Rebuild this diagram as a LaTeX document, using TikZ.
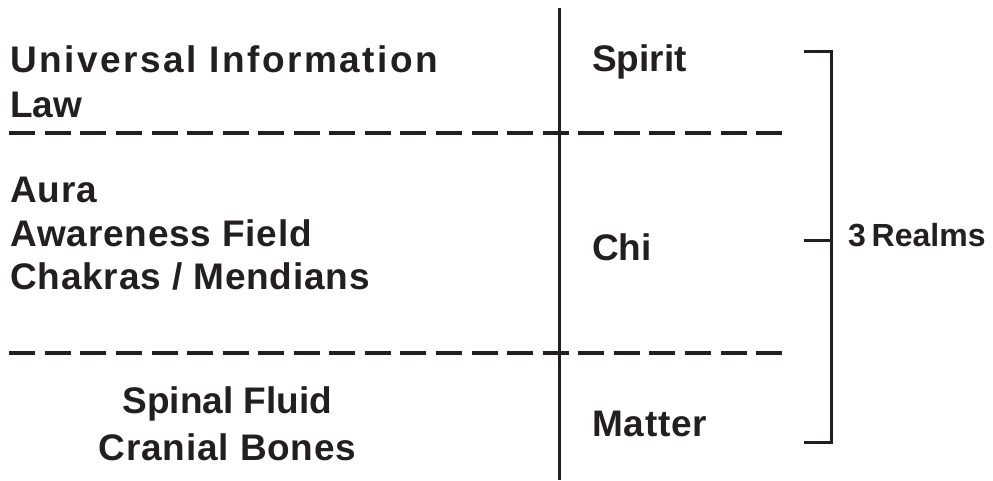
\documentclass[tikz,border=0pt]{standalone}
\usepackage{fontspec}
\setmainfont{Liberation Sans}
\newfontfamily\spacedfont{Liberation Sans}[LetterSpace=6.8]
\newfontfamily\trackfont{Liberation Sans}[LetterSpace=2.2]
\definecolor{ink}{HTML}{231F20}
\tikzset{
  lab/.style={inner sep=0pt, anchor=base west, text=ink, font=\fontsize{37}{44}\selectfont\bfseries},
  tlab/.style={lab, font=\fontsize{37}{44}\trackfont\bfseries},
  clab/.style={lab, anchor=base},
  rule/.style={draw=ink, line width=3pt},
  sep/.style={draw=ink, line width=3.6pt, dash pattern=on 26pt off 9.56pt}
}
\begin{document}
\begin{tikzpicture}[x=1pt,y=-1pt]
\useasboundingbox (0,0) rectangle (993,480);
% left labels
\node[lab, font=\fontsize{37}{44}\spacedfont\bfseries] (uni) at (10,72) {Universal Information};
\node[lab] (law) at (10,117.5) {Law};
\node[tlab] (aura) at (10,202) {Aura};
\node[tlab] (aware) at (10,246) {Awareness Field};
\node[tlab] (chakra) at (10,289) {Chakras / Mendians};
\node[clab] (spinal) at (227.5,413) {Spinal Fluid};
\node[clab, font=\fontsize{37}{44}\trackfont\bfseries] (cranial) at (227.5,460) {Cranial Bones};
% right labels
\node[lab] (spirit) at (592,71) {Spirit};
\node[lab] (chi) at (592,260) {Chi};
\node[tlab] (matter) at (592,436) {Matter};
\node[lab, font=\fontsize{32}{38}\selectfont\bfseries] (realms) at (848,246) {3\hspace{0.18em}Realms};
% vertical divider
\coordinate (vtop) at (559,8);
\coordinate (vbot) at (559,480);
\draw[rule] (vtop) -- (vbot);
% dashed separators
\coordinate (d1l) at (9.3,133);
\coordinate (d1r) at (782,133);
\coordinate (d2l) at (9.3,353);
\coordinate (d2r) at (782,353);
\draw[sep] (d1l) -- (d1r);
\draw[sep] (d2l) -- (d2r);
% bracket
\coordinate (btl) at (804,51);
\coordinate (btr) at (831,51);
\coordinate (bbr) at (831,442);
\coordinate (bbl) at (804,442);
\coordinate (bml) at (804,240);
\coordinate (bmr) at (831,240);
\draw[rule, line cap=butt, line join=miter] (btl) -- (btr) -- (bbr) -- (bbl);
\draw[rule] (bml) -- (bmr);
\end{tikzpicture}
\end{document}
